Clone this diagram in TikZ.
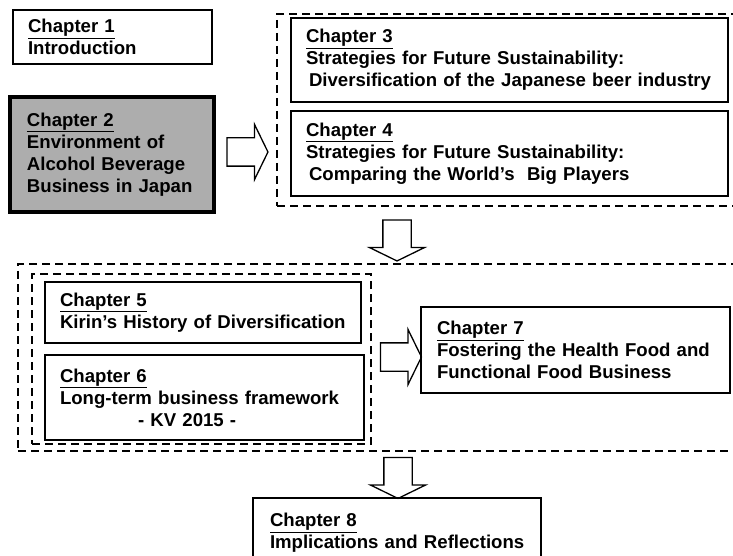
\documentclass[tikz,border=0pt]{standalone}
\usepackage{fontspec}
\setmainfont{Liberation Sans}
\usetikzlibrary{shapes.arrows}

\tikzset{
  chapbox/.style={draw, line width=1.4pt, anchor=north west, outer sep=0pt,
    align=left, inner xsep=15pt, inner ysep=0pt,
    font=\fontsize{18.6}{22}\selectfont\bfseries},
  grpbox/.style={draw, dash pattern=on 8pt off 5pt, line width=2.6pt,
    anchor=north west, outer sep=0pt, inner sep=0pt},
  blockarrow/.style={draw, single arrow, line width=1.3pt, inner sep=13.5pt,
    minimum height=41pt, single arrow head extend=13.5pt,
    single arrow tip angle=128}
}

\begin{document}
\begin{tikzpicture}[x=1pt,y=-1pt]
\useasboundingbox (0,0) rectangle (733,556);
% dashed groups
\node [grpbox, minimum width=460pt, minimum height=192pt] (grpa) at (277,14) {};
\node [grpbox, minimum width=722pt, minimum height=187pt] (grpb) at (18,264) {};
\node [grpbox, minimum width=339pt, minimum height=170pt] (grpc) at (32,274) {};
% chapters
\node [chapbox, text width=169pt, minimum height=54pt] (ch1) at (13,10)
  {\underline{Chapter 1}\\Introduction};
\node [chapbox, line width=3.5pt, fill=black!32, inner xsep=17pt, text width=170pt, minimum height=115pt] (ch2) at (10,97)
  {\underline{Chapter 2}\\Environment of\\Alcohol Beverage\\Business in Japan};
\node [chapbox, text width=407pt, minimum height=84pt] (ch3) at (291,18)
  {\underline{Chapter 3}\\Strategies for Future Sustainability:\\\hspace*{3pt}\mbox{Diversification of the Japanese beer industry}};
\node [chapbox, text width=407pt, minimum height=85pt] (ch4) at (291,111)
  {\underline{Chapter 4}\\Strategies for Future Sustainability:\\\hspace*{3pt}Comparing the World’s\ \ Big Players};
\node [chapbox, text width=286pt, minimum height=61pt] (ch5) at (45,282)
  {\underline{Chapter 5}\\\mbox{Kirin’s History of Diversification}};
\node [chapbox, text width=289pt, minimum height=85pt] (ch6) at (45,355)
  {\underline{Chapter 6}\\Long-term business framework\\\hspace*{78pt}- KV 2015 -};
\node [chapbox, inner xsep=16pt, text width=277pt, minimum height=86pt] (ch7) at (421,307)
  {\underline{Chapter 7}\\Fostering the Health Food and\\Functional Food Business};
\node [chapbox, inner xsep=17pt, text width=254pt, minimum height=70pt] (ch8) at (253,498)
  {\underline{Chapter 8}\\\mbox{Implications and Reflections}};
% arrows
\node [blockarrow] (arr1) at (244,152) {};
\node [blockarrow, shape border rotate=270] (arr2) at (397,237) {};
\node [blockarrow] (arr3) at (397.5,357) {};
\node [blockarrow, shape border rotate=270] (arr4) at (398,474.5) {};
\end{tikzpicture}
\end{document}
